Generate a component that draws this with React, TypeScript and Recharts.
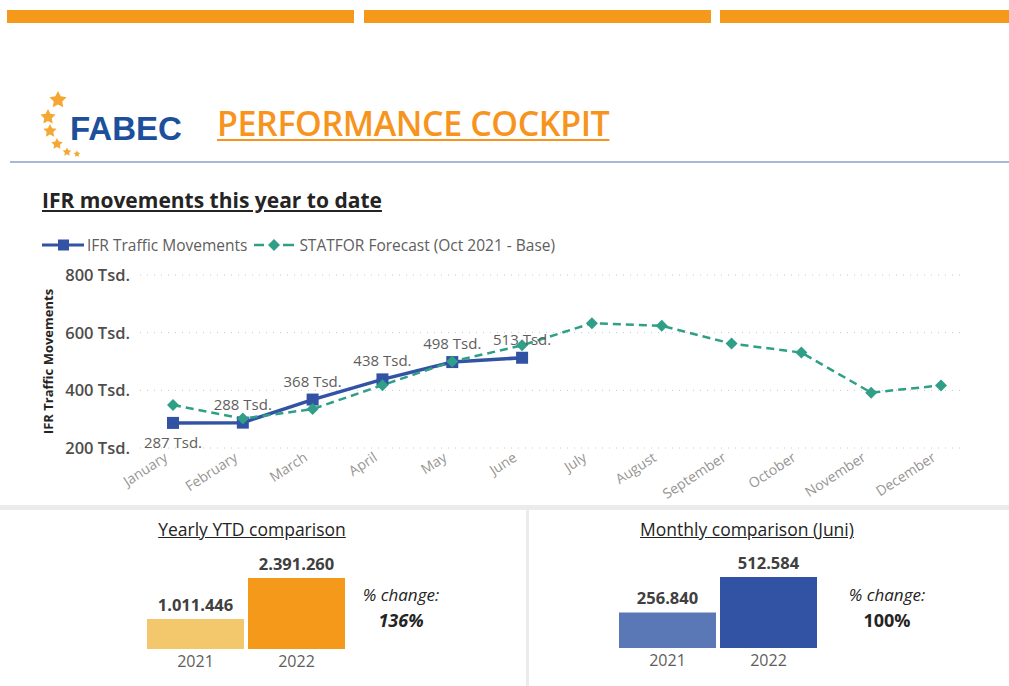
import React from 'react'
import { LineChart, Line, XAxis, YAxis, CartesianGrid, LabelList, BarChart, Bar, Cell } from 'recharts'

const months = ['January', 'February', 'March', 'April', 'May', 'June', 'July', 'August', 'September', 'October', 'November', 'December']
// values in thousands (Tsd.)
const ifrMovements = [287, 288, 368, 438, 498, 513]
const statforForecast = [349, 302, 335, 418, 500, 556, 633, 624, 562, 531, 392, 417]
const yTicks = [200, 400, 600, 800]

const years = ['2021', '2022']
const ytdTotals = [1011446, 2391260]
const ytdChange = '136%'
const juneTotals = [256840, 512584]
const juneChange = '100%'

const FONT = '"Open Sans", "Noto Sans", sans-serif'
const ORANGE = '#f4991a'
const IFR_BLUE = '#3253a4'
const STATFOR_TEAL = '#2f9f87'

const lineData = months.map((m, i) => ({
  month: m,
  ifr: i < ifrMovements.length ? ifrMovements[i] : null,
  statfor: statforForecast[i],
}))

const fmt = (v: number) => String(v).replace(/\B(?=(\d{3})+(?!\d))/g, '.')

const Star = ({ cx, cy, r }: { cx: number; cy: number; r: number }) => {
  const pts: string[] = []
  for (let i = 0; i < 10; i++) {
    const rad = i % 2 === 0 ? r : r * 0.5
    const a = -Math.PI / 2 + (i * Math.PI) / 5
    pts.push(`${cx + rad * Math.cos(a)},${cy + rad * Math.sin(a)}`)
  }
  return <polygon points={pts.join(' ')} fill="#f4a732" />
}

const SquareDot = (props: any) => {
  const { cx, cy, index, value } = props
  if (cx == null || cy == null || value == null) return <g key={`sq-${index}`} />
  return <rect key={`sq-${index}`} x={cx - 6} y={cy - 6} width={12} height={12} fill={IFR_BLUE} />
}

const DiamondDot = (props: any) => {
  const { cx, cy, index } = props
  if (cx == null || cy == null) return <g key={`dm-${index}`} />
  return <polygon key={`dm-${index}`} points={`${cx},${cy - 6} ${cx + 6},${cy} ${cx},${cy + 6} ${cx - 6},${cy}`} fill={STATFOR_TEAL} />
}

const IfrLabel = (props: any) => {
  const x = props.x ?? props.viewBox?.x
  const y = props.y ?? props.viewBox?.y
  const value = props.value
  if (x == null || y == null || value == null) return null
  const idx = props.index ?? ifrMovements.indexOf(Number(value))
  const below = idx === 0
  return (
    <text x={x} y={below ? y + 25 : y - 13} textAnchor="middle" fill="#605e5c" fontSize={15} fontFamily={FONT}>
      {value} Tsd.
    </text>
  )
}

const MonthTick = (props: any) => {
  const { x, y, payload } = props
  return (
    <g transform={`translate(${x},${y})`}>
      <text x={-9} y={0} dy={6} textAnchor="end" transform="rotate(-33)" fill="#979593" fontSize={14} fontFamily={FONT}>
        {payload.value}
      </text>
    </g>
  )
}

function CompareBars({ values, colors }: { values: number[]; colors: string[] }) {
  const data = years.map((y, i) => ({ year: y, value: values[i] }))
  return (
    <BarChart width={242} height={140} data={data} margin={{ top: 38, right: 20, left: 20, bottom: 0 }} barCategoryGap={2}>
      <XAxis dataKey="year" axisLine={false} tickLine={false} tickSize={0} tickMargin={7} height={31} interval={0}
        tick={{ fontSize: 16, fill: '#605e5c', fontFamily: FONT }} />
      <YAxis hide domain={[0, 'dataMax']} />
      <Bar dataKey="value" isAnimationActive={false}>
        {data.map((d, i) => (
          <Cell key={`c-${i}`} fill={colors[i]} />
        ))}
        <LabelList dataKey="value" position="top" offset={8} formatter={(v: any) => fmt(Number(v))}
          fill="#404040" fontSize={16.5} fontWeight={700} fontFamily={FONT} />
      </Bar>
    </BarChart>
  )
}

export default function App() {
  return (
    <div style={{ position: 'absolute', left: 0, top: 0, width: 1009, height: 686, overflow: 'hidden', background: '#fff', fontFamily: FONT }}>
      {/* top orange strips */}
      <div style={{ position: 'absolute', left: 7, top: 10, width: 347, height: 13, background: ORANGE }} />
      <div style={{ position: 'absolute', left: 364, top: 10, width: 347, height: 13, background: ORANGE }} />
      <div style={{ position: 'absolute', left: 720, top: 10, width: 289, height: 13, background: ORANGE }} />

      {/* logo */}
      <svg style={{ position: 'absolute', left: 0, top: 0 }} width={100} height={180}>
        <Star cx={58} cy={100} r={9} />
        <Star cx={48} cy={117} r={8} />
        <Star cx={50} cy={131} r={7} />
        <Star cx={57} cy={144} r={6} />
        <Star cx={67} cy={152} r={4.5} />
        <Star cx={77} cy={154} r={3.5} />
      </svg>
      <div style={{ position: 'absolute', left: 70, top: 109, fontFamily: '"Liberation Sans", Arial, sans-serif', fontWeight: 700, fontSize: 33, color: '#1c4f9c', lineHeight: '40px' }}>
        FABEC
      </div>
      <div style={{ position: 'absolute', left: 217, top: 101, fontWeight: 600, fontSize: 34, color: '#f7941d', lineHeight: '44px', textDecoration: 'underline', textDecorationThickness: 2, textUnderlineOffset: 3, letterSpacing: -0.4 }}>
        PERFORMANCE COCKPIT
      </div>
      <div style={{ position: 'absolute', left: 10, top: 161, width: 999, height: 2, background: '#a9b8d4' }} />

      {/* line chart title + legend */}
      <div style={{ position: 'absolute', left: 42, top: 186, fontWeight: 700, fontSize: 21, color: '#252423', lineHeight: '28px', textDecoration: 'underline' }}>
        IFR movements this year to date
      </div>
      <div style={{ position: 'absolute', left: 42, top: 234, height: 22, display: 'flex', alignItems: 'center', fontSize: 15.5, color: '#605e5c' }}>
        <svg width={44} height={14}>
          <line x1={0} y1={7} x2={42} y2={7} stroke={IFR_BLUE} strokeWidth={3} />
          <rect x={16} y={1.5} width={11} height={11} fill={IFR_BLUE} />
        </svg>
        <span style={{ marginLeft: 1 }}>IFR Traffic Movements</span>
        <svg width={44} height={14} style={{ marginLeft: 7 }}>
          <line x1={0} y1={7} x2={10} y2={7} stroke={STATFOR_TEAL} strokeWidth={2.5} />
          <polygon points="20,1 26,7 20,13 14,7" fill={STATFOR_TEAL} />
          <line x1={29} y1={7} x2={40} y2={7} stroke={STATFOR_TEAL} strokeWidth={2.5} />
        </svg>
        <span style={{ marginLeft: 1 }}>STATFOR Forecast (Oct 2021 - Base)</span>
      </div>

      <div style={{ position: 'absolute', left: 0, top: 225 }}>
        <LineChart width={1009} height={280} data={lineData} margin={{ top: 50, right: 45, left: 40, bottom: 7 }}>
          <CartesianGrid vertical={false} stroke="#c8c8c8" strokeDasharray="1 6" />
          <XAxis dataKey="month" padding={{ left: 33, right: 23 }} axisLine={false} tickLine={false} tickSize={0} interval={0}
            height={50} tick={<MonthTick />} />
          <YAxis domain={[200, 800]} ticks={yTicks} width={100} axisLine={false} tickLine={false} tickSize={0} tickMargin={10}
            tickFormatter={(v: number) => `${v} Tsd.`}
            tick={{ fontSize: 16.5, fill: '#4f4d4b', fontWeight: 600, fontFamily: FONT }}
            label={{ value: 'IFR Traffic Movements', angle: -90, position: 'insideLeft', offset: 8,
              style: { textAnchor: 'middle', fontSize: 13, fontWeight: 700, fill: '#252423', fontFamily: FONT } }} />
          <Line dataKey="ifr" stroke={IFR_BLUE} strokeWidth={3.5} dot={SquareDot} activeDot={false} isAnimationActive={false}>
            <LabelList dataKey="ifr" content={IfrLabel} />
          </Line>
          <Line dataKey="statfor" stroke={STATFOR_TEAL} strokeWidth={2.5} strokeDasharray="8 5" dot={DiamondDot} activeDot={false} isAnimationActive={false} />
        </LineChart>
      </div>

      {/* bottom panels */}
      <div style={{ position: 'absolute', left: 0, top: 505, width: 1009, height: 5, background: '#ebebeb' }} />
      <div style={{ position: 'absolute', left: 526, top: 510, width: 3, height: 176, background: '#ebebeb' }} />

      <div style={{ position: 'absolute', left: 52, width: 400, top: 516, textAlign: 'center', fontSize: 17.5, color: '#252423', lineHeight: '26px', textDecoration: 'underline' }}>
        Yearly YTD comparison
      </div>
      <div style={{ position: 'absolute', left: 125, top: 540 }}>
        <CompareBars values={ytdTotals} colors={['#f3c76c', ORANGE]} />
      </div>
      <div style={{ position: 'absolute', left: 341, width: 120, top: 583, textAlign: 'center', color: '#252423' }}>
        <div style={{ fontStyle: 'italic', fontSize: 17, lineHeight: '24px' }}>% change:</div>
        <div style={{ fontStyle: 'italic', fontWeight: 700, fontSize: 18, lineHeight: '26px' }}>{ytdChange}</div>
      </div>

      <div style={{ position: 'absolute', left: 547, width: 400, top: 516, textAlign: 'center', fontSize: 17.5, color: '#252423', lineHeight: '26px', textDecoration: 'underline' }}>
        Monthly comparison (Juni)
      </div>
      <div style={{ position: 'absolute', left: 597, top: 539 }}>
        <CompareBars values={juneTotals} colors={['#5a77b6', IFR_BLUE]} />
      </div>
      <div style={{ position: 'absolute', left: 827, width: 120, top: 583, textAlign: 'center', color: '#252423' }}>
        <div style={{ fontStyle: 'italic', fontSize: 17, lineHeight: '24px' }}>% change:</div>
        <div style={{ fontWeight: 700, fontSize: 18, lineHeight: '26px' }}>{juneChange}</div>
      </div>
    </div>
  )
}
